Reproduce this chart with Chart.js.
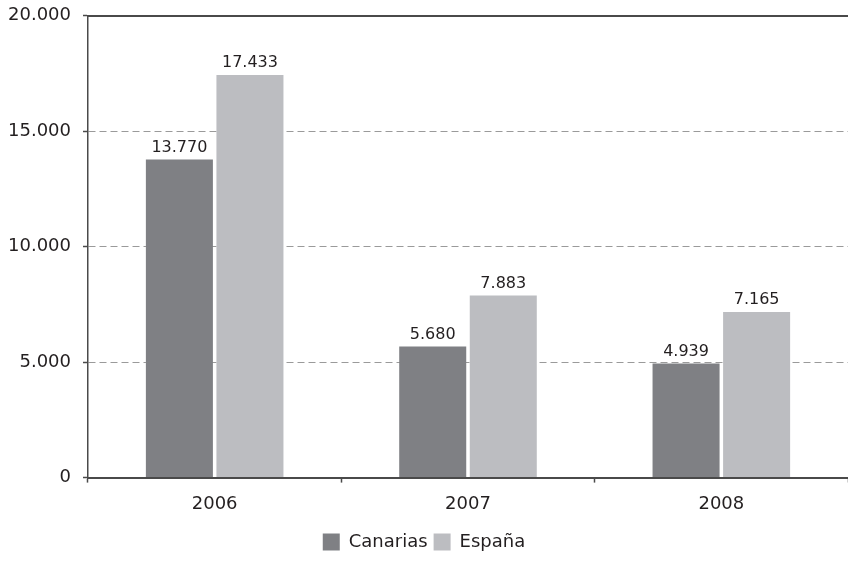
<!DOCTYPE html>
<html>
<head>
<meta charset="utf-8">
<script src="https://cdn.jsdelivr.net/npm/chart.js@4/dist/chart.umd.min.js"></script>
<style>
  html, body { margin: 0; padding: 0; background: #fff; }
  #wrap { width: 848px; height: 561px; }
</style>
</head>
<body>
<div id="wrap"><canvas id="barChart"></canvas></div>
<script>
/* ── Datos ── */
const years    = ['2006', '2007', '2008'];
const canarias = [13770, 5680, 4939];
const espana   = [17433, 7883, 7165];
const yTicks   = [0, 5000, 10000, 15000, 20000];

/* ── Paleta ── */
const C = {
  canarias: '#7f8084',
  espana:   '#bcbdc1',
  text:     '#231f20',
  axis:     '#4a4a4a',
  grid:     '#9a9a9a',
};

Chart.defaults.font.family = "'DejaVu Sans', sans-serif";
Chart.defaults.color = C.text;

// 20.000 / 4.939 – separador de miles con punto
const fmt = v => String(v).replace(/\B(?=(\d{3})+(?!\d))/g, '.');

/* etiquetas de valor encima de cada barra */
const valueLabels = {
  id: 'valueLabels',
  afterDatasetsDraw(chart) {
    const ctx = chart.ctx;
    ctx.save();
    ctx.font = '16px ' + Chart.defaults.font.family;
    ctx.fillStyle = C.text;
    ctx.textAlign = 'center';
    ctx.textBaseline = 'bottom';
    chart.data.datasets.forEach((ds, i) => {
      chart.getDatasetMeta(i).data.forEach((bar, j) => {
        ctx.fillText(fmt(ds.data[j]), bar.x, bar.y - 4);
      });
    });
    ctx.restore();
  }
};

new Chart(document.getElementById('barChart'), {
  type: 'bar',
  data: {
    labels: years,
    datasets: [
      { label: 'Canarias', data: canarias, backgroundColor: C.canarias },
      { label: 'España',   data: espana,   backgroundColor: C.espana }
    ]
  },
  options: {
    responsive: true,
    maintainAspectRatio: false,
    animation: false,
    datasets: { bar: { categoryPercentage: 0.557, barPercentage: 0.95 } },
    layout: { padding: { top: 0, right: 0, left: 0, bottom: 0 } },
    plugins: {
      tooltip: { enabled: false },
      legend: {
        position: 'bottom',
        labels: {
          boxWidth: 17, boxHeight: 17, padding: 6,
          color: C.text, font: { size: 18 }
        }
      }
    },
    scales: {
      x: {
        afterFit: s => { s.height = 49.4; },
        grid: {
          drawOnChartArea: false, color: C.axis, tickLength: 5, tickWidth: 1.5
        },
        border: { color: C.axis, width: 2 },
        ticks: { color: C.text, font: { size: 18 }, padding: 11 }
      },
      x2: {
        position: 'top',
        grid: { display: false, drawTicks: false },
        ticks: { display: false },
        border: { color: C.axis, width: 2 }
      },
      y: {
        min: 0, max: 20000,
        afterBuildTicks: s => { s.ticks = yTicks.map(v => ({ value: v })); },
        afterFit: s => { s.width = 88; },
        grid: {
          color: ctx => ctx.tick && ctx.tick.value > 0 && ctx.tick.value < 20000 ? C.grid : 'rgba(0,0,0,0)',
          tickColor: C.axis, tickLength: 5, tickWidth: 1.5
        },
        border: { color: C.axis, width: 1.5, dash: [7, 4] },
        ticks: {
          color: C.text, font: { size: 18, lineHeight: 0.4 }, padding: 12,
          callback: v => fmt(v)
        }
      }
    }
  },
  plugins: [valueLabels]
});
</script>
</body>
</html>
